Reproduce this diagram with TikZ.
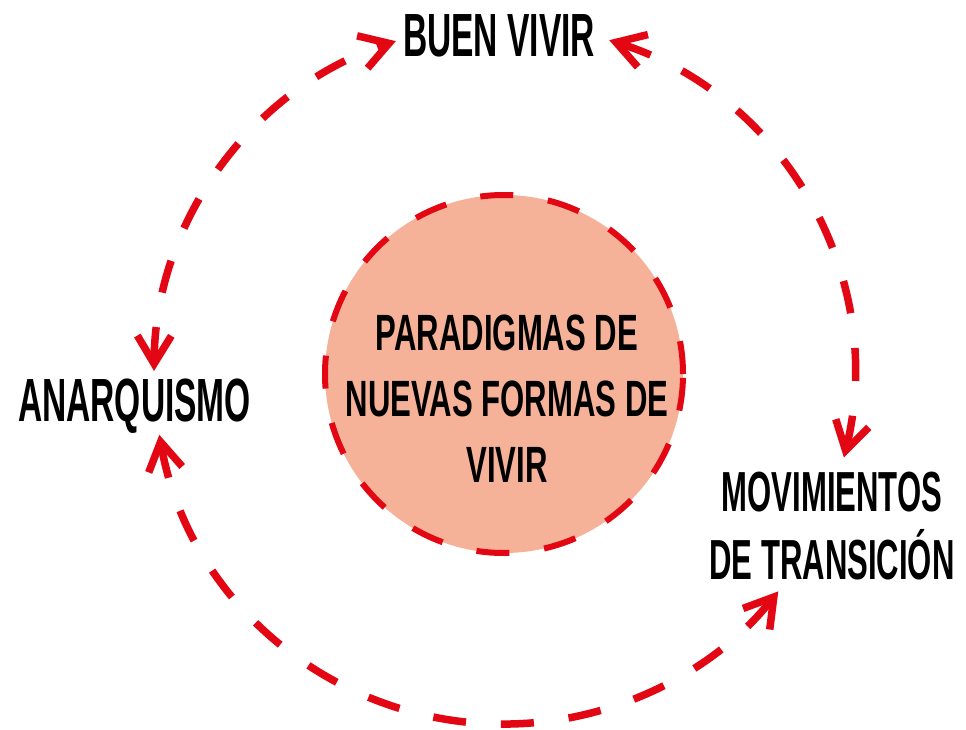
\documentclass[tikz,border=0pt]{standalone}
\usepackage{fontspec}
\usetikzlibrary{arrows.meta}
\newfontfamily\condfont[FakeStretch=0.55]{Liberation Sans}
\newfontfamily\circfont[FakeStretch=0.61]{Liberation Sans}
\definecolor{dashred}{RGB}{227,6,19}
\definecolor{salmon}{RGB}{245,178,153}
\tikzset{
  biglabel/.style={font=\condfont\bfseries\fontsize{61}{66}\selectfont, inner sep=0pt},
  movlabel/.style={font=\condfont\bfseries\fontsize{56.5}{68}\selectfont, inner sep=0pt, align=center},
  circtext/.style={font=\circfont\bfseries\fontsize{51}{66}\selectfont, inner sep=0pt, align=center},
  link/.style={draw=dashred, line width=7.5pt, dash pattern=on 33pt off 35pt,
    {Straight Barb[length=28pt,width=34pt]}-{Straight Barb[length=28pt,width=34pt]}}
}
\begin{document}
\begin{tikzpicture}[x=1pt,y=1pt]
    % --- Definitions for Proportions ---
    \def\inrad{179}   % radius of the inner circle
    \def\outrad{350}  % radius of the outer ring of arrows
    \useasboundingbox (0,0) rectangle (966,729);

    % --- Coordinates ---
    \coordinate (ctr) at (504,355);            % common centre
    \path (ctr) ++(179.5:\outrad) coordinate (anarTop);  % above ANARQUISMO
    \path (ctr) ++(190:\outrad) coordinate (anarBot);    % below ANARQUISMO
    \path (ctr) ++(108:\outrad) coordinate (buenL);      % left of BUEN VIVIR
    \path (ctr) ++(72.5:\outrad) coordinate (buenR);     % right of BUEN VIVIR
    \path (ctr) ++(-13.8:\outrad) coordinate (movTop);   % above MOVIMIENTOS
    \path (ctr) ++(-38.4:\outrad) coordinate (movBot);   % below MOVIMIENTOS

    % --- Inner Circle ---
    \node[circle, minimum size=2*\inrad, fill=salmon, draw=dashred, line width=6pt,
      dash pattern=on 33pt off 35pt] (para) at (ctr) {};
    \node[circtext] (paraText) at (507,330) {PARADIGMAS DE\\NUEVAS FORMAS DE\\VIVIR};

    % --- Labels ---
    \node[biglabel] (buen) at (499,693) {BUEN VIVIR};
    \node[biglabel] (anar) at (134.5,323) {ANARQUISMO};
    \node[movlabel] (mov) at (832,203) {MOVIMIENTOS\\DE TRANSICIÓN};

    % --- Arrows around the ring ---
    \draw[link] (anarTop) arc[start angle=179.5, end angle=108, radius=\outrad]; % to buen vivir
    \draw[link] (buenR) arc[start angle=72.5, end angle=-13.8, radius=\outrad];  % to movimientos
    \draw[link] (anarBot) arc[start angle=190, end angle=321.6, radius=\outrad]; % bottom arc

\end{tikzpicture}
\end{document}
